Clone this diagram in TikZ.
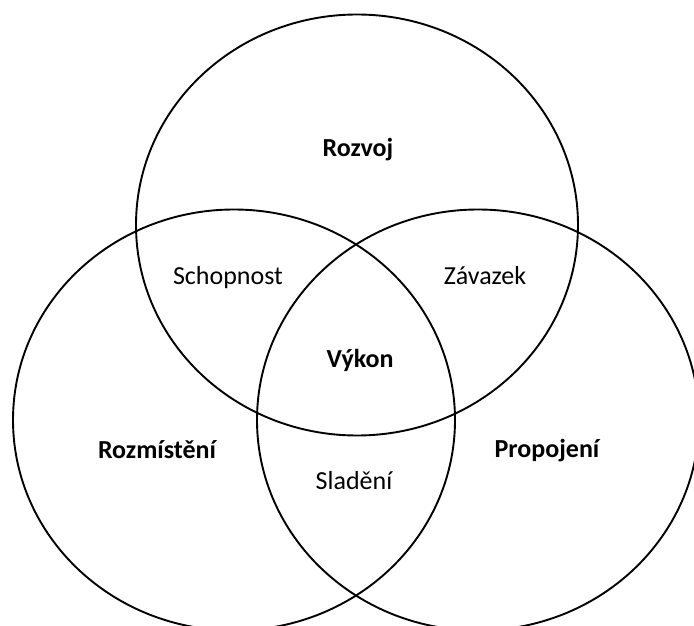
\documentclass[tikz,border=0pt]{standalone}
\usepackage{fontspec}
\setmainfont{Carlito}
\usetikzlibrary{shapes.geometric}
\begin{document}
\begin{tikzpicture}[x=1pt,y=1pt,
  set/.style={draw, line width=1.9pt, ellipse, inner sep=0pt, minimum width=442pt, minimum height=421pt},
  lbl/.style={font=\fontsize{26}{30}\selectfont, inner sep=0pt, anchor=base},
  blbl/.style={lbl, font=\fontsize{26}{30}\selectfont\bfseries}]
\useasboundingbox (0,0) rectangle (694,625);
\node[set] (top) at (357,400) {};
\node[set] (left) at (234,205) {};
\node[set] (right) at (478,205) {};
\node[blbl] (rozvoj) at (358,468) {Rozvoj};
\node[lbl] (schopnost) at (228,340) {Schopnost};
\node[lbl] (zavazek) at (485,340) {Závazek};
\node[blbl] (vykon) at (360,258) {Výkon};
\node[blbl] (rozmisteni) at (157,167) {Rozmístění};
\node[blbl] (propojeni) at (547,168) {Propojení};
\node[lbl] (sladeni) at (354,136) {Sladění};
\end{tikzpicture}
\end{document}
